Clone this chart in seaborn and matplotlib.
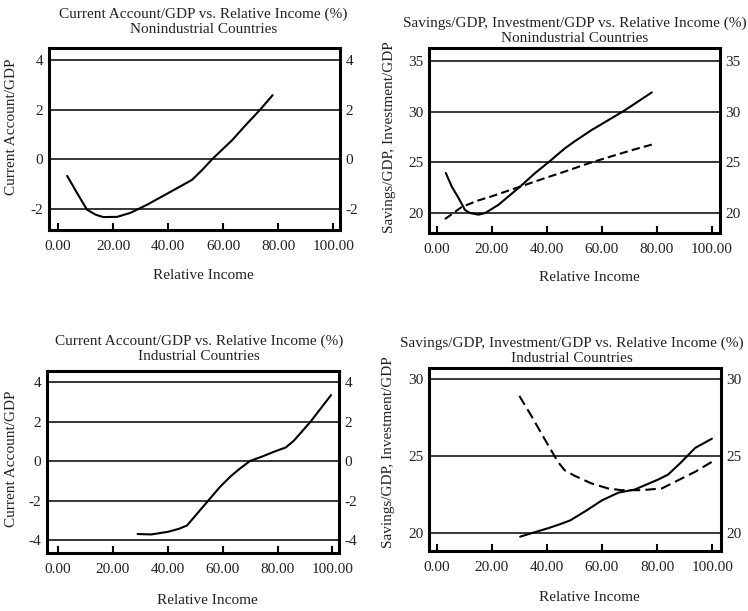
import numpy as np
import pandas as pd
import matplotlib
matplotlib.use('Agg')
import matplotlib.pyplot as plt
import seaborn as sns

# data
# Nonindustrial: current account / GDP
ni_ca_x = [3.3, 6.9, 10.5, 13.6, 16.4, 21.5, 26.3, 32.4, 39.6, 44.5, 48.7, 52.4, 56.0, 63.3, 68.0, 73.5, 78.0]
ni_ca_y = [-0.67, -1.36, -2.03, -2.23, -2.33, -2.32, -2.16, -1.83, -1.39, -1.09, -0.83, -0.43, 0.0, 0.77, 1.35, 2.0, 2.58]

# Nonindustrial: savings (solid) and investment (dashed)
ni_sav_x = [3.3, 5.5, 7.9, 10.3, 12.1, 15.2, 17.6, 22.4, 30.3, 35.8, 40.6, 46.7, 50.3, 56.4, 62.0, 68.2, 78.2]
ni_sav_y = [23.95, 22.6, 21.5, 20.3, 20.0, 19.84, 20.0, 20.8, 22.6, 23.95, 25.0, 26.4, 27.1, 28.2, 29.1, 30.1, 31.9]
ni_inv_x = [3.0, 9.1, 15.2, 20.0, 30.3, 39.4, 46.7, 55.2, 63.6, 70.9, 78.2]
ni_inv_y = [19.4, 20.6, 21.25, 21.65, 22.6, 23.45, 24.1, 24.9, 25.6, 26.2, 26.75]

# Industrial: current account / GDP
in_ca_x = [29, 34, 40, 44, 47, 51, 55, 59, 63, 66, 70, 74, 79, 83, 86, 92, 99.5]
in_ca_y = [-3.68, -3.7, -3.57, -3.42, -3.25, -2.6, -1.95, -1.3, -0.75, -0.4, 0.02, 0.22, 0.5, 0.7, 1.05, 2.0, 3.35]

# Industrial: savings (solid) and investment (dashed)
in_sav_x = [30.3, 34.3, 40.3, 44.6, 48.5, 54.0, 60.0, 66.0, 71.9, 80.4, 84.0, 88.9, 93.8, 99.9]
in_sav_y = [19.74, 19.96, 20.28, 20.54, 20.8, 21.4, 22.1, 22.6, 22.8, 23.45, 23.77, 24.6, 25.5, 26.1]
in_inv_x = [30.0, 34.3, 39.1, 44.0, 46.4, 50.0, 56.1, 62.2, 67.0, 74.4, 81.7, 86.5, 93.8, 99.9]
in_inv_y = [28.88, 27.6, 26.1, 24.6, 24.06, 23.7, 23.2, 22.87, 22.76, 22.76, 22.87, 23.3, 23.95, 24.6]

x_ticks = [0, 20, 40, 60, 80, 100]
x_tick_labels = ['0.00', '20.00', '40.00', '60.00', '80.00', '100.00']
ca_ticks = [-2, 0, 2, 4]
ca_ticks_ind = [-4, -2, 0, 2, 4]
ni_si_ticks = [20, 25, 30, 35]
in_si_ticks = [20, 25, 30]

titles = [
    'Current Account/GDP vs. Relative Income (%)\nNonindustrial Countries',
    'Savings/GDP, Investment/GDP vs. Relative Income (%)\nNonindustrial Countries',
    'Current Account/GDP vs. Relative Income (%)\nIndustrial Countries',
    'Savings/GDP, Investment/GDP vs. Relative Income (%)\nIndustrial Countries',
]
ca_label = 'Current Account/GDP'
si_label = 'Savings/GDP, Investment/GDP'
x_label = 'Relative Income'

FS = 11
sns.set_theme(style='white')
plt.rcParams['font.family'] = ['Liberation Serif', 'DejaVu Serif']
plt.rcParams['font.size'] = FS

W, H = 748, 611
fig = plt.figure(figsize=(W / 100, H / 100), dpi=100)


def make_ax(l, r, t, b):
    return fig.add_axes([l / W, 1 - b / H, (r - l) / W, (b - t) / H])


def style_ax(ax, xlim, ylim, yticks, title, ylabel, title_pad, ylab_xy, xlab_xy, title_x=0.5):
    ax.set_xlim(*xlim)
    ax.set_ylim(*ylim)
    ax.set_xticks(x_ticks)
    ax.set_xticklabels(x_tick_labels, fontsize=FS)
    ax.set_yticks(yticks)
    ax.set_yticklabels([str(v) for v in yticks], fontsize=FS)
    ax.grid(axis='y', color='black', lw=1.1)
    ax.grid(axis='x', visible=False)
    for s in ax.spines.values():
        s.set_color('black')
        s.set_linewidth(2.2)
    ax.tick_params(axis='x', direction='in', length=5, width=1.5, color='black',
                   bottom=True, top=False, pad=7, labelcolor='#222222')
    ax.tick_params(axis='y', length=0, left=False, right=False, labelleft=True,
                   labelright=True, pad=4, labelcolor='#222222')
    ax.set_title(title, fontsize=FS, pad=title_pad, linespacing=1.2,
                 color='#222222', x=title_x)
    ax.set_ylabel(ylabel, fontsize=FS, color='#222222')
    ax.yaxis.set_label_coords(*ylab_xy)
    ax.set_xlabel(x_label, fontsize=FS, color='#222222')
    ax.xaxis.set_label_coords(*xlab_xy)


# top left
ax1 = make_ax(49, 340, 48, 230)
sns.lineplot(x=ni_ca_x, y=ni_ca_y, ax=ax1, color='black', lw=1.5, sort=False, estimator=None)
style_ax(ax1, (-3.3, 102.5), (-2.85, 4.48), ca_ticks, titles[0], ca_label, 11,
         (-0.105, 0.57), (0.53, -0.214), 0.53)

# top right
ax2 = make_ax(429, 720, 48, 233)
sns.lineplot(x=ni_sav_x, y=ni_sav_y, ax=ax2, color='black', lw=1.5, sort=False, estimator=None)
sns.lineplot(x=ni_inv_x, y=ni_inv_y, ax=ax2, color='black', lw=1.5, sort=False, estimator=None)
ax2.lines[-1].set_dashes((4, 2))
style_ax(ax2, (-2.8, 103.0), (18.03, 36.28), ni_si_ticks, titles[1], si_label, 4,
         (-0.115, 0.52), (0.55, -0.205), 0.5)

# bottom left
ax3 = make_ax(47, 339, 371, 553)
sns.lineplot(x=in_ca_x, y=in_ca_y, ax=ax3, color='black', lw=1.5, sort=False, estimator=None)
style_ax(ax3, (-4.0, 102.4), (-4.64, 4.57), ca_ticks_ind, titles[2], ca_label, 8,
         (-0.1, 0.52), (0.55, -0.225), 0.52)

# bottom right
ax4 = make_ax(429, 721, 368, 551)
sns.lineplot(x=in_sav_x, y=in_sav_y, ax=ax4, color='black', lw=1.5, sort=False, estimator=None)
sns.lineplot(x=in_inv_x, y=in_inv_y, ax=ax4, color='black', lw=1.5, sort=False, estimator=None)
ax4.lines[-1].set_dashes((5, 2.5))
style_ax(ax4, (-2.8, 103.2), (18.81, 30.69), in_si_ticks, titles[3], si_label, 4,
         (-0.115, 0.54), (0.55, -0.219), 0.49)

fig.savefig('out.png', dpi=100)
